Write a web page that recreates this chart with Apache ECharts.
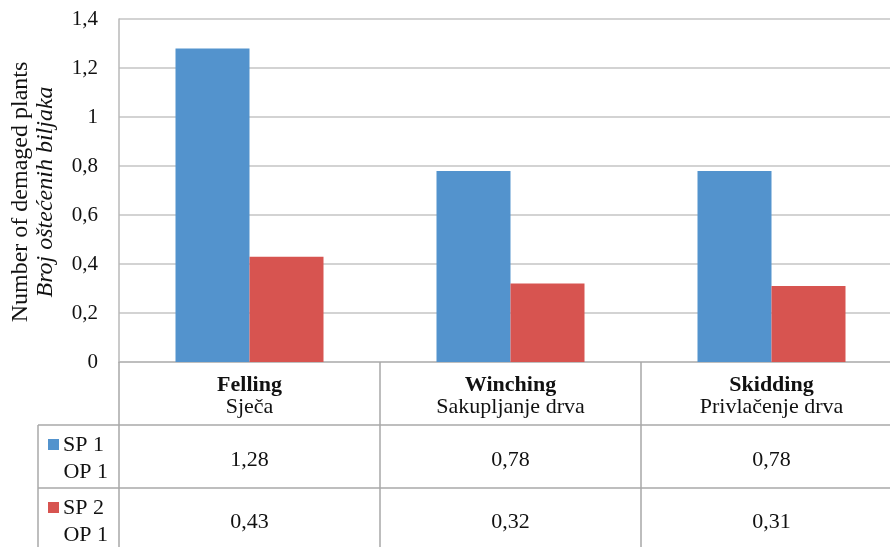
<!DOCTYPE html>
<html>
<head>
<meta charset="utf-8">
<script src="https://cdn.jsdelivr.net/npm/echarts@6/dist/echarts.min.js"></script>
<style>html,body{margin:0;padding:0;background:#fff}#c{width:890px;height:547px}</style>
</head>
<body>
<div id="c"></div>
<script>
const categories = ['Felling', 'Winching', 'Skidding'];
const categoriesLocal = ['Sječa', 'Sakupljanje drva', 'Privlačenje drva'];
const seriesNames = ['SP 1', 'SP 2'];
const seriesSub = ['OP 1', 'OP 1'];
const sp1 = [1.28, 0.78, 0.78];
const sp2 = [0.43, 0.32, 0.31];
const yTitle = 'Number of demaged plants';
const yTitleLocal = 'Broj oštećenih biljaka';

const colors = ['#5393cd', '#d75450'];
const FONT = '"Liberation Serif", "Times New Roman", serif';
const TXT = '#111';
const fmt = v => String(v).replace('.', ',');

const chart = echarts.init(document.getElementById('c'));

const legendGraphics = [];
seriesNames.forEach((n, i) => {
  const top = 439 + i * 63;
  legendGraphics.push({
    type: 'rect', shape: {x: 48, y: top, width: 11, height: 11},
    style: {fill: colors[i]}
  });
  legendGraphics.push({
    type: 'text', x: 63, y: top + 6,
    style: {text: n, font: '22px ' + FONT, fill: TXT, textAlign: 'left', textVerticalAlign: 'middle'}
  });
  legendGraphics.push({
    type: 'text', x: 108, y: top + 33,
    style: {text: seriesSub[i], font: '22px ' + FONT, fill: TXT, textAlign: 'right', textVerticalAlign: 'middle'}
  });
});

chart.setOption({
  animation: false,
  backgroundColor: '#fff',
  grid: {left: 119, top: 19, width: 783, height: 343, containLabel: false, outerBoundsMode: 'none'},
  xAxis: {
    type: 'category',
    data: categories,
    axisLine: {show: true, lineStyle: {color: '#b8b8b8', width: 1.5}},
    axisTick: {show: true, interval: 0, length: 185, lineStyle: {color: '#a8a8a8', width: 1.5}},
    axisLabel: {
      interval: 0,
      margin: 12,
      hideOverlap: false,
      formatter: (v, i) => `{t|${v}}\n{s|${categoriesLocal[i]}}\n{a|${fmt(sp1[i])}}\n{b|${fmt(sp2[i])}}`,
      rich: {
        t: {fontFamily: FONT, fontSize: 22, fontWeight: 'bold', color: TXT, lineHeight: 22},
        s: {fontFamily: FONT, fontSize: 22, color: TXT, lineHeight: 22},
        a: {fontFamily: FONT, fontSize: 22, color: TXT, lineHeight: 84},
        b: {fontFamily: FONT, fontSize: 22, color: TXT, lineHeight: 41}
      }
    }
  },
  yAxis: {
    type: 'value',
    min: 0, max: 1.4, interval: 0.2,
    axisLine: {show: true, lineStyle: {color: '#b8b8b8', width: 1.5}},
    axisTick: {show: false},
    splitLine: {show: true, lineStyle: {color: '#c4c4c4', width: 1.5}},
    axisLabel: {
      margin: 21,
      fontFamily: FONT, fontSize: 21, color: TXT,
      formatter: v => fmt(Math.round(v * 10) / 10)
    }
  },
  series: [
    {name: seriesNames[0], type: 'bar', data: sp1, barWidth: 74, barGap: '0%', itemStyle: {color: colors[0]}},
    {name: seriesNames[1], type: 'bar', data: sp2, barWidth: 74, barGap: '0%', itemStyle: {color: colors[1]}}
  ],
  graphic: [
    {type: 'line', shape: {x1: 38, y1: 425, x2: 890, y2: 425}, style: {stroke: '#a8a8a8', lineWidth: 1.5}},
    {type: 'line', shape: {x1: 38, y1: 488, x2: 890, y2: 488}, style: {stroke: '#a8a8a8', lineWidth: 1.5}},
    {type: 'line', shape: {x1: 38, y1: 425, x2: 38, y2: 547}, style: {stroke: '#a8a8a8', lineWidth: 1.5}},
    {type: 'text', x: 21, y: 192, rotation: Math.PI / 2,
     style: {text: yTitle, font: '24px ' + FONT, fill: TXT, textAlign: 'center', textVerticalAlign: 'middle'}},
    {type: 'text', x: 46, y: 192, rotation: Math.PI / 2,
     style: {text: yTitleLocal, font: 'italic 24px ' + FONT, fill: TXT, textAlign: 'center', textVerticalAlign: 'middle'}},
    ...legendGraphics
  ]
});
</script>
</body>
</html>
